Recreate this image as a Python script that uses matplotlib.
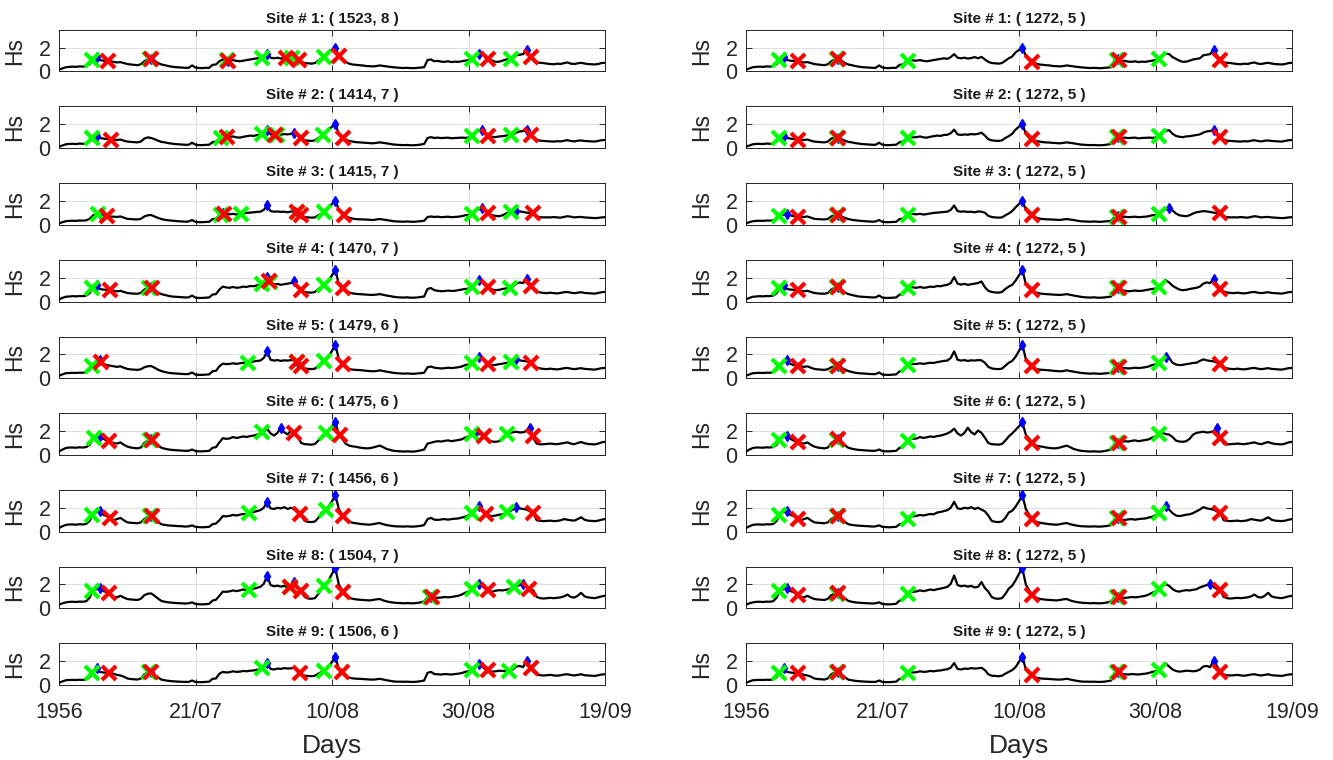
import numpy as np
import matplotlib
matplotlib.use("Agg")
import matplotlib.pyplot as plt

plt.rcParams['font.family'] = ['Liberation Sans', 'DejaVu Sans']

# Half-day time axis, days since 01/07/1956
t_days = np.arange(0, 80.5, 0.5)
x_ticks = [0, 20, 40, 60, 80]
x_tick_labels = ['1956', '21/07', '10/08', '30/08', '19/09']
y_ticks = [0, 2]

# Significant wave height (m) at each site, one value every half day
hs_site1 = [
    0.15, 0.25, 0.35, 0.38, 0.40, 0.38, 0.42, 0.40, 0.45, 0.60,
    1.00, 1.25, 0.95, 0.90, 0.88, 0.86, 0.80, 0.75, 0.78, 0.70,
    0.62, 0.58, 0.55, 0.52, 0.60, 0.85, 1.00, 1.05, 0.90, 0.70,
    0.58, 0.52, 0.45, 0.40, 0.36, 0.34, 0.32, 0.30, 0.30, 0.50,
    0.32, 0.28, 0.28, 0.30, 0.30, 0.55, 0.58, 0.85, 1.00, 0.92,
    0.90, 0.95, 0.88, 0.85, 0.90, 0.95, 1.00, 1.05, 1.10, 1.05,
    1.20, 1.45, 1.15, 1.10, 1.15, 1.08, 1.12, 1.20, 1.10, 1.22,
    1.00, 0.80, 0.70, 0.68, 0.65, 0.70, 0.90, 1.10, 1.25, 1.60,
    1.80, 2.00, 1.30, 0.95, 0.80, 0.65, 0.58, 0.55, 0.52, 0.50,
    0.45, 0.44, 0.42, 0.45, 0.50, 0.46, 0.42, 0.38, 0.35, 0.32,
    0.30, 0.28, 0.30, 0.28, 0.27, 0.30, 0.32, 0.35, 0.95, 1.00,
    0.85, 0.88, 0.82, 0.80, 0.85, 0.78, 0.82, 0.80, 0.85, 0.90,
    0.95, 1.05, 1.35, 1.50, 1.45, 1.20, 1.05, 0.90, 0.80, 0.82,
    0.90, 1.00, 1.05, 1.10, 1.35, 1.40, 1.45, 1.80, 1.35, 0.95,
    0.75, 0.72, 0.70, 0.65, 0.62, 0.60, 0.65, 0.62, 0.70, 0.75,
    0.65, 0.62, 0.68, 0.72, 0.66, 0.62, 0.60, 0.58, 0.62, 0.70,
    0.72]
hs_site2 = [
    0.12, 0.22, 0.32, 0.35, 0.36, 0.34, 0.38, 0.36, 0.40, 0.55,
    0.95, 1.05, 0.85, 0.80, 0.76, 0.72, 0.70, 0.68, 0.72, 0.62,
    0.55, 0.52, 0.50, 0.48, 0.55, 0.80, 0.90, 0.85, 0.75, 0.62,
    0.52, 0.48, 0.42, 0.38, 0.34, 0.32, 0.30, 0.28, 0.28, 0.45,
    0.28, 0.25, 0.25, 0.27, 0.28, 0.50, 0.55, 0.80, 0.95, 0.90,
    0.92, 0.98, 0.90, 0.88, 0.95, 1.00, 1.05, 1.02, 1.10, 1.12,
    1.25, 1.55, 1.15, 1.10, 1.15, 1.12, 1.18, 1.15, 1.20, 1.30,
    1.05, 0.75, 0.65, 0.62, 0.60, 0.65, 0.85, 1.00, 1.20, 1.55,
    1.80, 2.00, 1.20, 0.85, 0.72, 0.60, 0.55, 0.50, 0.48, 0.46,
    0.44, 0.42, 0.40, 0.44, 0.48, 0.44, 0.40, 0.35, 0.30, 0.28,
    0.26, 0.25, 0.26, 0.24, 0.24, 0.26, 0.30, 0.35, 0.85, 0.92,
    0.85, 0.88, 0.84, 0.86, 0.88, 0.82, 0.85, 0.86, 0.88, 0.86,
    0.88, 1.05, 1.30, 1.45, 1.50, 1.20, 1.02, 0.95, 0.92, 0.98,
    1.00, 1.05, 1.10, 1.15, 1.30, 1.40, 1.43, 1.50, 1.20, 0.95,
    0.70, 0.62, 0.60, 0.58, 0.56, 0.55, 0.58, 0.56, 0.62, 0.66,
    0.60, 0.56, 0.62, 0.64, 0.60, 0.58, 0.56, 0.55, 0.60, 0.66,
    0.68]
hs_site3 = [
    0.12, 0.22, 0.30, 0.33, 0.34, 0.33, 0.36, 0.35, 0.38, 0.50,
    0.80, 0.85, 0.92, 0.80, 0.72, 0.70, 0.68, 0.66, 0.70, 0.60,
    0.50, 0.48, 0.46, 0.45, 0.50, 0.70, 0.80, 0.82, 0.70, 0.58,
    0.48, 0.42, 0.38, 0.35, 0.32, 0.30, 0.28, 0.26, 0.28, 0.40,
    0.25, 0.22, 0.22, 0.24, 0.25, 0.48, 0.52, 0.80, 0.95, 0.90,
    0.88, 0.92, 0.86, 0.90, 0.95, 1.00, 1.02, 1.05, 1.08, 1.10,
    1.25, 1.62, 1.15, 1.10, 1.12, 1.08, 1.10, 1.05, 1.12, 1.10,
    1.02, 0.75, 0.65, 0.62, 0.60, 0.62, 0.80, 0.95, 1.15, 1.47,
    1.75, 2.02, 1.25, 0.92, 0.75, 0.60, 0.52, 0.48, 0.46, 0.45,
    0.44, 0.42, 0.40, 0.45, 0.48, 0.44, 0.40, 0.35, 0.30, 0.28,
    0.27, 0.26, 0.28, 0.26, 0.25, 0.28, 0.30, 0.34, 0.65, 0.70,
    0.66, 0.68, 0.64, 0.66, 0.68, 0.64, 0.66, 0.68, 0.72, 0.80,
    0.82, 0.92, 1.15, 1.30, 1.40, 1.20, 0.95, 0.80, 0.75, 0.72,
    0.80, 0.95, 1.05, 1.10, 1.15, 1.12, 1.08, 1.02, 1.00, 0.95,
    0.68, 0.65, 0.62, 0.63, 0.62, 0.65, 0.62, 0.60, 0.66, 0.72,
    0.68, 0.62, 0.65, 0.66, 0.62, 0.60, 0.58, 0.56, 0.58, 0.62,
    0.64]
hs_site4 = [
    0.18, 0.30, 0.40, 0.42, 0.45, 0.43, 0.46, 0.45, 0.50, 0.70,
    1.20, 1.38, 1.05, 1.00, 0.98, 0.95, 0.90, 0.85, 0.90, 0.80,
    0.72, 0.68, 0.66, 0.65, 0.72, 1.00, 1.15, 1.20, 0.95, 0.75,
    0.62, 0.55, 0.48, 0.42, 0.40, 0.38, 0.36, 0.34, 0.35, 0.50,
    0.32, 0.30, 0.30, 0.32, 0.34, 0.58, 0.62, 1.00, 1.25, 1.18,
    1.15, 1.22, 1.15, 1.18, 1.25, 1.22, 1.30, 1.28, 1.35, 1.40,
    1.55, 2.05, 1.50, 1.42, 1.48, 1.40, 1.45, 1.50, 1.55, 1.68,
    1.20, 0.90, 0.80, 0.76, 0.74, 0.80, 1.05, 1.25, 1.40, 1.75,
    2.20, 2.65, 1.45, 1.15, 0.90, 0.75, 0.68, 0.64, 0.62, 0.60,
    0.58, 0.56, 0.55, 0.58, 0.62, 0.56, 0.50, 0.45, 0.40, 0.36,
    0.34, 0.33, 0.35, 0.32, 0.32, 0.34, 0.38, 0.42, 1.05, 1.13,
    0.95, 0.90, 0.86, 0.88, 0.92, 0.88, 0.90, 0.95, 1.00, 1.05,
    1.08, 1.20, 1.55, 1.78, 1.60, 1.32, 1.15, 1.00, 0.95, 0.98,
    1.05, 1.10, 1.15, 1.25, 1.50, 1.60, 1.55, 1.88, 1.45, 1.05,
    0.82, 0.76, 0.72, 0.70, 0.74, 0.70, 0.68, 0.72, 0.78, 0.80,
    0.74, 0.70, 0.74, 0.78, 0.72, 0.70, 0.68, 0.66, 0.72, 0.78,
    0.80]
hs_site5 = [
    0.20, 0.32, 0.42, 0.44, 0.45, 0.44, 0.46, 0.46, 0.50, 0.70,
    1.15, 1.35, 1.50, 1.20, 1.10, 1.05, 1.00, 0.95, 1.00, 0.88,
    0.78, 0.74, 0.72, 0.70, 0.75, 0.92, 1.00, 1.02, 0.88, 0.72,
    0.60, 0.52, 0.46, 0.42, 0.40, 0.38, 0.36, 0.34, 0.35, 0.48,
    0.30, 0.28, 0.28, 0.30, 0.32, 0.58, 0.62, 1.00, 1.22, 1.18,
    1.20, 1.25, 1.20, 1.25, 1.30, 1.28, 1.35, 1.40, 1.45, 1.48,
    1.70, 2.25, 1.55, 1.48, 1.52, 1.45, 1.50, 1.48, 1.52, 1.50,
    1.30, 0.95, 0.82, 0.78, 0.76, 0.80, 1.05, 1.30, 1.45, 1.80,
    2.30, 2.82, 1.60, 1.30, 0.95, 0.78, 0.72, 0.70, 0.68, 0.66,
    0.62, 0.60, 0.58, 0.60, 0.66, 0.60, 0.55, 0.50, 0.45, 0.42,
    0.40, 0.38, 0.40, 0.38, 0.37, 0.40, 0.42, 0.46, 0.92, 0.98,
    0.88, 0.85, 0.82, 0.84, 0.88, 0.85, 0.88, 0.92, 0.98, 1.10,
    1.15, 1.25, 1.55, 1.80, 1.70, 1.30, 1.15, 1.10, 1.12, 1.18,
    1.22, 1.28, 1.30, 1.45, 1.58, 1.50, 1.45, 1.42, 1.30, 1.15,
    0.90, 0.82, 0.78, 0.76, 0.80, 0.76, 0.74, 0.78, 0.84, 0.86,
    0.80, 0.76, 0.80, 0.84, 0.78, 0.76, 0.74, 0.72, 0.78, 0.84,
    0.86]
hs_site6 = [
    0.28, 0.45, 0.58, 0.62, 0.62, 0.60, 0.64, 0.62, 0.66, 0.85,
    1.40, 1.50, 1.62, 1.35, 1.20, 1.10, 1.00, 0.95, 1.05, 0.85,
    0.70, 0.62, 0.58, 0.55, 0.62, 1.00, 1.20, 1.30, 1.05, 0.80,
    0.60, 0.52, 0.46, 0.42, 0.40, 0.38, 0.36, 0.34, 0.35, 0.45,
    0.32, 0.30, 0.30, 0.32, 0.34, 0.60, 0.65, 1.05, 1.40, 1.35,
    1.38, 1.50, 1.42, 1.48, 1.55, 1.50, 1.58, 1.62, 1.70, 1.80,
    1.95, 2.20, 1.80, 1.62, 1.85, 2.28, 1.90, 1.72, 2.05, 1.85,
    1.45, 1.00, 0.90, 0.88, 0.86, 0.92, 1.20, 1.55, 1.80, 2.10,
    2.40, 2.72, 1.70, 1.35, 0.95, 0.78, 0.72, 0.68, 0.62, 0.58,
    0.55, 0.56, 0.62, 0.70, 0.78, 0.65, 0.50, 0.42, 0.35, 0.32,
    0.30, 0.28, 0.30, 0.28, 0.28, 0.32, 0.38, 0.45, 0.95, 1.02,
    1.10, 1.15, 1.12, 1.18, 1.22, 1.15, 1.20, 1.25, 1.30, 1.45,
    1.55, 1.75, 1.85, 1.75, 1.70, 1.50, 1.20, 1.12, 1.10, 1.15,
    1.35, 1.70, 1.85, 1.90, 1.95, 1.88, 1.90, 2.00, 2.22, 1.40,
    0.95, 0.88, 0.90, 0.92, 0.95, 0.92, 0.90, 0.95, 1.00, 1.05,
    0.95, 0.90, 1.00, 1.08, 0.98, 0.92, 0.90, 0.88, 0.95, 1.05,
    1.10]
hs_site7 = [
    0.30, 0.45, 0.56, 0.60, 0.60, 0.58, 0.62, 0.60, 0.65, 0.90,
    1.55, 1.62, 1.75, 1.40, 1.30, 1.10, 0.95, 1.05, 1.15, 0.95,
    0.78, 0.74, 0.72, 0.70, 0.78, 1.05, 1.25, 1.35, 1.05, 0.80,
    0.62, 0.56, 0.52, 0.50, 0.48, 0.46, 0.45, 0.42, 0.44, 0.52,
    0.40, 0.38, 0.36, 0.38, 0.40, 0.62, 0.68, 0.95, 1.30, 1.28,
    1.32, 1.40, 1.35, 1.42, 1.48, 1.45, 1.60, 1.65, 1.72, 1.80,
    2.00, 2.50, 1.95, 1.90, 2.00, 1.95, 2.05, 1.90, 2.00, 1.85,
    1.70, 1.35, 0.90, 0.82, 0.80, 0.85, 1.15, 1.60, 1.75, 2.10,
    2.55, 3.05, 1.90, 1.40, 1.00, 0.82, 0.75, 0.70, 0.66, 0.62,
    0.60, 0.58, 0.62, 0.68, 0.72, 0.62, 0.55, 0.50, 0.46, 0.44,
    0.43, 0.42, 0.44, 0.42, 0.42, 0.45, 0.48, 0.55, 1.05, 1.15,
    1.00, 0.98, 1.02, 1.05, 1.00, 1.05, 1.08, 1.10, 1.18, 1.25,
    1.38, 1.55, 1.85, 2.14, 1.85, 1.55, 1.35, 1.30, 1.35, 1.42,
    1.45, 1.55, 1.70, 1.85, 2.05, 1.95, 1.90, 1.85, 1.70, 1.55,
    0.95, 0.90, 0.88, 0.90, 0.92, 0.88, 0.90, 0.95, 1.05, 1.00,
    0.95, 0.92, 1.05, 1.20, 1.00, 0.92, 0.90, 0.88, 0.92, 1.00,
    1.05]
hs_site8 = [
    0.30, 0.42, 0.50, 0.54, 0.55, 0.53, 0.56, 0.55, 0.60, 0.90,
    1.55, 1.60, 1.72, 1.45, 1.35, 1.20, 0.95, 0.92, 1.05, 0.90,
    0.78, 0.74, 0.72, 0.70, 0.80, 1.10, 1.22, 1.25, 1.05, 0.82,
    0.62, 0.55, 0.50, 0.47, 0.45, 0.43, 0.42, 0.40, 0.42, 0.50,
    0.36, 0.34, 0.33, 0.35, 0.38, 0.65, 0.72, 1.05, 1.40, 1.38,
    1.42, 1.50, 1.44, 1.50, 1.58, 1.52, 1.60, 1.65, 1.72, 1.80,
    2.05, 2.75, 1.95, 1.85, 1.90, 1.82, 1.88, 1.75, 1.80, 2.20,
    1.70, 1.40, 0.95, 0.82, 0.80, 0.85, 1.20, 1.65, 1.90, 2.35,
    2.90, 3.35, 2.00, 1.50, 1.05, 0.88, 0.80, 0.75, 0.72, 0.70,
    0.68, 0.66, 0.70, 0.75, 0.78, 0.66, 0.58, 0.52, 0.48, 0.45,
    0.44, 0.42, 0.44, 0.42, 0.42, 0.45, 0.50, 0.58, 0.92, 0.98,
    0.90, 0.88, 0.90, 0.95, 0.92, 0.95, 1.00, 1.05, 1.15, 1.30,
    1.42, 1.58, 1.85, 2.04, 1.88, 1.62, 1.45, 1.40, 1.48, 1.52,
    1.50, 1.55, 1.60, 1.75, 1.85, 1.95, 2.05, 1.80, 1.62, 1.50,
    0.95, 0.85, 0.82, 0.85, 0.88, 0.85, 0.88, 0.92, 1.00, 1.15,
    0.95, 0.90, 1.05, 1.30, 1.00, 0.92, 0.88, 0.85, 0.92, 1.00,
    1.05]
hs_site9 = [
    0.18, 0.30, 0.40, 0.42, 0.43, 0.42, 0.44, 0.43, 0.48, 0.65,
    1.12, 1.40, 1.10, 1.05, 1.02, 1.00, 0.95, 0.85, 0.80, 0.70,
    0.55, 0.50, 0.48, 0.46, 0.55, 0.90, 1.05, 1.10, 0.85, 0.65,
    0.45, 0.40, 0.35, 0.32, 0.30, 0.28, 0.27, 0.26, 0.26, 0.38,
    0.25, 0.24, 0.24, 0.26, 0.28, 0.52, 0.55, 0.95, 1.10, 1.05,
    1.08, 1.15, 1.10, 1.12, 1.18, 1.15, 1.20, 1.22, 1.28, 1.32,
    1.45, 1.84, 1.35, 1.30, 1.38, 1.35, 1.42, 1.38, 1.40, 1.45,
    1.25, 0.90, 0.78, 0.76, 0.74, 0.78, 0.95, 1.10, 1.25, 1.50,
    1.95, 2.38, 1.30, 1.00, 0.75, 0.62, 0.56, 0.53, 0.52, 0.50,
    0.48, 0.46, 0.45, 0.48, 0.52, 0.46, 0.40, 0.35, 0.30, 0.28,
    0.28, 0.27, 0.28, 0.26, 0.26, 0.28, 0.32, 0.38, 1.02, 1.10,
    0.92, 0.90, 0.88, 0.92, 0.90, 0.88, 0.92, 0.95, 1.00, 1.10,
    1.15, 1.30, 1.60, 1.80, 1.55, 1.30, 1.18, 1.12, 1.15, 1.20,
    1.18, 1.15, 1.18, 1.30, 1.55, 1.60, 1.50, 2.05, 1.60, 1.12,
    0.88, 0.82, 0.80, 0.82, 0.85, 0.80, 0.78, 0.82, 0.88, 0.90,
    0.84, 0.80, 0.85, 0.90, 0.82, 0.80, 0.78, 0.76, 0.82, 0.88,
    0.90]
hs_sites = [hs_site1, hs_site2, hs_site3, hs_site4, hs_site5,
            hs_site6, hs_site7, hs_site8, hs_site9]

# Title numbers for each panel
left_titles = [(1523, 8), (1414, 7), (1415, 7), (1470, 7), (1479, 6),
               (1475, 6), (1456, 6), (1504, 7), (1506, 6)]
right_titles = [(1272, 5)] * 9

# Storm events (day of start, peak and end) per site, left column
left_start = [
    [4.9, 13.3, 24.6, 29.8, 34.2, 38.8, 60.5, 66.3],
    [4.9, 23.7, 29.8, 31.9, 38.7, 60.5, 66.3],
    [5.7, 23.7, 26.6, 34.9, 38.8, 60.5, 66.3],
    [4.9, 13.2, 29.8, 30.9, 38.9, 60.5, 66.1],
    [4.9, 27.7, 34.9, 38.9, 60.5, 66.3],
    [5.1, 13.4, 29.8, 39.1, 60.5, 65.7],
    [4.9, 13.4, 27.8, 39.1, 60.5, 65.7],
    [4.9, 27.8, 33.9, 38.9, 54.3, 60.5, 66.6],
    [4.9, 13.2, 29.8, 38.8, 60.5, 66.0]]
left_peak = [
    [5.5, 13.5, 24.7, 30.5, 34.5, 40.5, 61.5, 68.5],
    [5.5, 24.0, 30.5, 34.5, 40.5, 62.0, 68.5],
    [6.0, 24.0, 30.5, 35.0, 40.5, 62.0, 67.0],
    [5.5, 13.5, 30.5, 34.5, 40.5, 61.5, 68.5],
    [6.0, 30.5, 35.0, 40.5, 61.5, 67.0],
    [6.0, 13.5, 32.5, 40.5, 61.0, 69.0],
    [6.0, 13.5, 30.5, 40.5, 61.5, 67.0],
    [6.0, 30.5, 34.5, 40.5, 54.5, 61.5, 68.0],
    [5.5, 13.5, 30.5, 40.5, 61.5, 68.5]]
left_end = [
    [7.2, 13.5, 24.8, 33.2, 35.2, 41.0, 62.9, 69.2],
    [7.6, 24.6, 31.7, 35.4, 41.6, 62.9, 69.2],
    [7.0, 24.2, 34.8, 35.4, 41.8, 62.9, 69.4],
    [7.4, 13.6, 30.8, 35.4, 41.6, 62.8, 69.2],
    [6.2, 34.8, 35.4, 41.6, 62.9, 69.2],
    [7.3, 13.6, 34.5, 41.1, 62.3, 69.4],
    [7.4, 13.6, 35.3, 41.6, 62.6, 69.4],
    [7.3, 33.8, 35.4, 41.6, 54.6, 62.8, 68.9],
    [7.3, 13.5, 35.3, 41.4, 62.8, 69.2]]

# Right column: common event windows, site-specific peaks
right_start = [4.9, 13.3, 23.7, 54.4, 60.5]
right_end = [7.6, 13.5, 41.9, 54.6, 69.5]
right_peak = [
    [5.5, 13.5, 40.5, 54.5, 68.5],
    [5.5, 13.5, 40.5, 54.5, 68.5],
    [6.0, 13.5, 40.5, 54.5, 62.0],
    [5.5, 13.5, 40.5, 54.5, 68.5],
    [6.0, 13.5, 40.5, 54.5, 61.5],
    [6.0, 13.5, 40.5, 54.5, 69.0],
    [6.0, 13.5, 40.5, 54.5, 61.5],
    [6.0, 13.5, 40.5, 54.5, 68.0],
    [5.5, 13.5, 40.5, 54.5, 68.5]]

TXT = '#262626'
W, H = 1333, 760
fig = plt.figure(figsize=(W / 100, H / 100), dpi=100)

col_left_px = [59, 746]
col_width_px = 546
row_top_px = 29.7
row_pitch_px = 76.7
row_height_px = 41.7

for col in range(2):
    for i in range(9):
        top = row_top_px + i * row_pitch_px
        ax = fig.add_axes([col_left_px[col] / W,
                           1 - (top + row_height_px) / H,
                           col_width_px / W,
                           row_height_px / H])
        hs = np.array(hs_sites[i])
        if col == 0:
            st, pk, en = left_start[i], left_peak[i], left_end[i]
            a, b = left_titles[i]
        else:
            st, pk, en = right_start, right_peak[i], right_end
            a, b = right_titles[i]

        ax.plot(t_days, hs, color='black', lw=1.6, zorder=3)
        ax.plot(pk, np.interp(pk, t_days, hs), linestyle='none', marker='d',
                color='#0000ff', ms=5.5, zorder=4)
        ax.plot(st, np.interp(st, t_days, hs), linestyle='none', marker='x',
                color='#00ff00', ms=10, mew=3.0, zorder=5)
        ax.plot(en, np.interp(en, t_days, hs), linestyle='none', marker='x',
                color='#ff0000', ms=10, mew=3.0, zorder=6)

        ax.set_xlim(0, 80)
        ax.set_ylim(0, 3.5)
        ax.set_xticks(x_ticks)
        ax.set_yticks(y_ticks)
        ax.grid(True, color='#e0e0e0', lw=0.7)
        ax.set_axisbelow(True)
        for sp in ax.spines.values():
            sp.set_color(TXT)
            sp.set_linewidth(0.7)
        ax.tick_params(direction='in', length=4, width=0.7, top=True,
                       right=True, colors=TXT, labelsize=15.5)
        ax.tick_params(axis='y', pad=6)
        ax.tick_params(axis='x', pad=12)
        if i == 8:
            ax.set_xticklabels(x_tick_labels)
            ax.set_xlabel('Days', fontsize=19, color=TXT, labelpad=8)
        else:
            ax.tick_params(labelbottom=False)
        ax.set_ylabel('Hs', fontsize=16.5, color=TXT)
        ax.yaxis.set_label_coords(-0.061, 0.5)
        ax.set_title(f'Site # {i + 1}: ( {a}, {b} )', fontsize=11,
                     fontweight='bold', color='#1a1a1a', pad=5)

fig.savefig('out.png', dpi=100)
